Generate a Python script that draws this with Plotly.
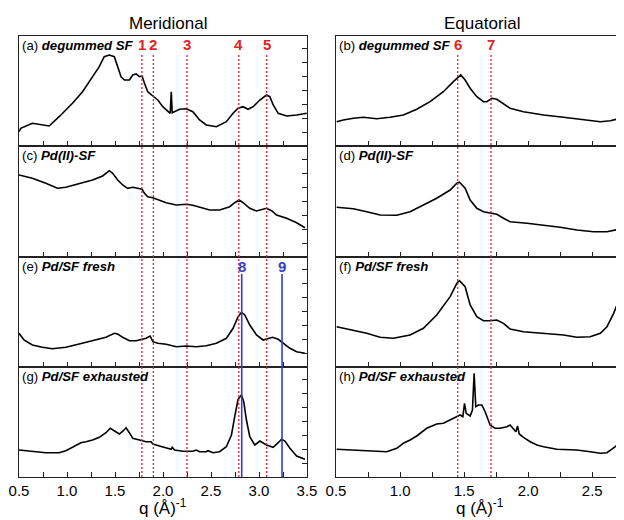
import plotly.graph_objects as go

# ---------------- data (q in 1/Angstrom, intensity in arbitrary units) ----------------
# (a) meridional, degummed SF
q_a = [0.50, 0.518, 0.639, 0.744, 0.814, 0.918, 1.057, 1.162, 1.266, 1.336, 1.388, 1.441, 1.493, 1.528,
       1.563, 1.598, 1.650, 1.685, 1.720, 1.754, 1.782, 1.807, 1.841, 1.894, 1.946, 1.998, 2.050, 2.075,
       2.086, 2.096, 2.172, 2.242, 2.311, 2.381, 2.451, 2.556, 2.660, 2.730, 2.782, 2.834, 2.886, 2.939,
       3.009, 3.078, 3.113, 3.148, 3.200, 3.288, 3.392, 3.497]
i_a = [14.3, 17.7, 22.7, 21.0, 20.0, 29.3, 42.7, 54.3, 69.3, 79.3, 89.3, 91.0, 89.3, 79.3,
       69.3, 66.0, 66.0, 71.0, 72.0, 69.3, 70.0, 62.7, 54.3, 50.0, 46.0, 39.3, 34.3, 32.7,
       54.3, 33.3, 36.7, 37.3, 34.3, 26.0, 21.0, 19.3, 24.3, 32.7, 37.7, 39.3, 36.7, 39.3,
       46.0, 51.0, 49.3, 41.0, 32.7, 30.0, 31.0, 32.7]

# (c) meridional, Pd(II)-SF
q_c = [0.50, 0.639, 0.779, 0.901, 0.988, 1.127, 1.266, 1.371, 1.441, 1.476, 1.528, 1.580, 1.632, 1.685,
       1.737, 1.782, 1.807, 1.841, 1.894, 1.963, 2.033, 2.138, 2.242, 2.311, 2.381, 2.486, 2.590, 2.695,
       2.747, 2.793, 2.834, 2.904, 2.974, 3.026, 3.078, 3.131, 3.183, 3.288, 3.392, 3.479]
i_c = [82.0, 78.7, 73.7, 68.7, 69.7, 73.0, 77.0, 81.0, 86.3, 83.7, 77.0, 72.0, 68.7, 69.7,
       68.7, 67.7, 63.7, 60.3, 59.3, 57.0, 54.3, 52.0, 52.7, 51.7, 49.7, 47.0, 47.0, 50.3,
       54.3, 57.0, 54.3, 48.7, 46.0, 47.0, 48.7, 46.3, 42.0, 38.7, 34.3, 29.3]

# (e) meridional, Pd/SF fresh
q_e = [0.50, 0.552, 0.639, 0.744, 0.848, 0.988, 1.127, 1.266, 1.406, 1.493, 1.528, 1.580, 1.650, 1.720,
       1.782, 1.824, 1.866, 1.894, 1.946, 2.033, 2.138, 2.242, 2.347, 2.451, 2.556, 2.660, 2.730, 2.782,
       2.817, 2.852, 2.904, 2.974, 3.043, 3.096, 3.141, 3.200, 3.252, 3.322, 3.392, 3.479]
i_e = [33.7, 27.0, 22.0, 19.7, 18.3, 19.7, 23.0, 26.3, 29.7, 33.7, 33.0, 29.7, 26.3, 26.3,
       27.7, 28.7, 31.0, 25.3, 23.7, 22.7, 20.3, 21.0, 20.3, 21.3, 23.7, 28.7, 38.7, 50.3,
       54.7, 52.0, 42.0, 32.0, 27.0, 28.7, 29.7, 27.7, 23.7, 18.7, 15.3, 13.7]

# (g) meridional, Pd/SF exhausted
q_g = [0.50, 0.639, 0.779, 0.918, 0.988, 1.057, 1.144, 1.197, 1.266, 1.336, 1.406, 1.451, 1.493, 1.545,
       1.587, 1.615, 1.650, 1.685, 1.754, 1.824, 1.876, 1.894, 1.963, 2.033, 2.086, 2.096, 2.120, 2.207,
       2.311, 2.347, 2.381, 2.451, 2.469, 2.521, 2.590, 2.660, 2.713, 2.747, 2.782, 2.817, 2.841, 2.869,
       2.904, 2.956, 3.009, 3.078, 3.148, 3.200, 3.235, 3.270, 3.322, 3.392, 3.479]
i_g = [27.0, 26.0, 24.3, 24.3, 26.3, 29.7, 34.3, 35.3, 37.0, 39.7, 44.3, 48.7, 46.0, 43.0,
       46.3, 49.3, 44.3, 38.7, 37.0, 35.3, 35.3, 33.0, 31.0, 29.0, 27.7, 29.7, 27.0, 25.7,
       25.7, 27.0, 25.3, 25.3, 26.3, 24.3, 25.3, 30.3, 42.0, 60.3, 77.7, 82.0, 75.3, 57.0,
       40.3, 32.0, 36.0, 32.0, 29.7, 34.3, 37.7, 36.0, 28.7, 21.0, 17.7]

# (b) equatorial, degummed SF
q_b = [0.505, 0.557, 0.635, 0.713, 0.818, 0.922, 1.026, 1.130, 1.234, 1.338, 1.416, 1.455, 1.474, 1.508,
       1.547, 1.599, 1.651, 1.677, 1.716, 1.755, 1.807, 1.859, 1.963, 2.120, 2.276, 2.432, 2.563, 2.641,
       2.719, 2.745]
i_b = [24.3, 26.0, 27.7, 28.7, 27.3, 28.7, 31.0, 36.7, 44.3, 54.3, 64.3, 68.7, 71.0, 66.0,
       57.7, 49.3, 44.3, 44.3, 47.7, 46.7, 42.0, 37.7, 34.3, 31.0, 28.7, 26.0, 24.3, 25.3,
       27.7, 29.3]

# (d) equatorial, Pd(II)-SF
q_d = [0.505, 0.635, 0.740, 0.844, 0.974, 1.078, 1.182, 1.286, 1.391, 1.443, 1.463, 1.508, 1.547, 1.599,
       1.651, 1.703, 1.755, 1.807, 1.859, 1.990, 2.120, 2.250, 2.380, 2.510, 2.615, 2.693, 2.745]
i_d = [49.7, 48.3, 45.3, 42.0, 41.7, 45.3, 52.0, 58.7, 67.0, 73.7, 74.7, 68.7, 57.0, 48.7,
       45.3, 43.7, 42.7, 38.7, 35.3, 33.7, 32.0, 29.7, 27.0, 25.3, 25.3, 27.0, 28.7]

# (f) equatorial, Pd/SF fresh
q_f = [0.505, 0.635, 0.740, 0.844, 0.948, 1.078, 1.182, 1.286, 1.391, 1.443, 1.463, 1.508, 1.547, 1.599,
       1.651, 1.703, 1.755, 1.807, 1.859, 1.963, 2.120, 2.276, 2.380, 2.484, 2.563, 2.615, 2.667, 2.706,
       2.745]
i_f = [40.3, 37.0, 33.7, 29.7, 28.7, 32.0, 38.7, 52.0, 70.3, 83.7, 86.3, 80.3, 62.0, 50.3,
       46.3, 46.3, 47.0, 43.7, 38.0, 35.3, 33.7, 32.0, 29.7, 30.3, 33.7, 40.3, 53.7, 67.0,
       78.7]

# (h) equatorial, Pd/SF exhausted
q_h = [0.505, 0.635, 0.765, 0.896, 0.974, 1.026, 1.078, 1.130, 1.208, 1.286, 1.338, 1.391, 1.443, 1.469,
       1.490, 1.503, 1.516, 1.547, 1.565, 1.578, 1.591, 1.612, 1.638, 1.664, 1.703, 1.742, 1.781, 1.833,
       1.859, 1.885, 1.904, 1.917, 1.930, 1.963, 2.016, 2.068, 2.120, 2.224, 2.380, 2.484, 2.563, 2.615,
       2.680, 2.745]
i_h = [27.7, 27.0, 26.3, 25.3, 28.7, 33.7, 37.0, 41.0, 48.7, 53.0, 53.7, 57.0, 61.0, 62.0,
       60.3, 73.7, 63.7, 61.0, 67.0, 103.7, 70.3, 72.0, 72.0, 65.3, 52.0, 48.7, 48.7, 50.3,
       52.0, 48.7, 45.3, 51.0, 43.0, 39.7, 35.3, 32.0, 30.3, 27.7, 27.0, 25.3, 23.7, 24.3,
       30.3, 38.7]

panel_labels = ["(a) ", "(b) ", "(c) ", "(d) ", "(e) ", "(f) ", "(g) ", "(h) "]
sample_names = ["degummed SF", "degummed SF", "Pd(II)-SF", "Pd(II)-SF",
                "Pd/SF fresh", "Pd/SF fresh", "Pd/SF exhausted", "Pd/SF exhausted"]

red_q_left = [1.78, 1.90, 2.25, 2.79, 3.08]
red_lab_left = ["1", "2", "3", "4", "5"]
red_q_right = [1.45, 1.71]
red_lab_right = ["6", "7"]
blue_q = [2.82, 3.24]
blue_lab = ["8", "9"]

col_titles = ["Meridional", "Equatorial"]
x_ticks_left = [0.5, 1.0, 1.5, 2.0, 2.5, 3.0, 3.5]
x_ticks_right = [0.5, 1.0, 1.5, 2.0, 2.5]

# ---------------- layout geometry (window pixels; page body margin is 8px) ----------------
W, H = 624, 520
OFF = 8
FONT = "Liberation Sans, Arial, sans-serif"
left_px = (19, 307)
right_px = (336, 623)
row_px = [36, 146, 257, 367, 477]

def px_x(p):
    return (p - OFF) / W

def px_y(p):
    return 1 - (p - OFF) / H

series = [(q_a, i_a), (q_b, i_b), (q_c, i_c), (q_d, i_d),
          (q_e, i_e), (q_f, i_f), (q_g, i_g), (q_h, i_h)]

fig = go.Figure()
layout = dict(width=W, height=H, margin=dict(l=0, r=0, t=0, b=0, pad=0, autoexpand=False),
              paper_bgcolor="white", plot_bgcolor="rgba(0,0,0,0)",
              showlegend=False, font=dict(family=FONT, color="black"))

for k, (qq, ii) in enumerate(series):
    n = k + 1
    sfx = "" if n == 1 else str(n)
    row = k // 2
    is_left = (k % 2 == 0)
    xd = left_px if is_left else right_px
    top, bot = row_px[row], row_px[row + 1]
    fig.add_trace(go.Scatter(x=qq, y=ii, mode="lines",
                             line=dict(color="black", width=1.6),
                             xaxis="x" + sfx, yaxis="y" + sfx, hoverinfo="skip"))
    bottom_row = (row == 3)
    ticks_here = x_ticks_left if is_left else x_ticks_right
    layout["xaxis" + sfx] = dict(
        domain=[px_x(xd[0]), px_x(xd[1])],
        range=[0.5, 3.5] if is_left else [0.5, 2.74],
        anchor="y" + sfx, showgrid=False, zeroline=False, automargin=False,
        showline=True, mirror=True, linecolor="#222", linewidth=1,
        ticks="inside", ticklen=5, tickcolor="#222",
        tickvals=ticks_here, ticktext=[f"{v:.1f}" for v in ticks_here],
        minor=dict(ticks="inside", ticklen=5, dtick=0.25, tick0=0.5, tickcolor="#222"),
        showticklabels=bottom_row, tickfont=dict(size=15, family=FONT),
    )
    layout["yaxis" + sfx] = dict(
        domain=[px_y(bot), px_y(top)], range=[0, bot - top],
        anchor="x" + sfx, side="right", showgrid=False, zeroline=False, automargin=False,
        showline=True, mirror=True, linecolor="#222", linewidth=1,
        ticks="inside", ticklen=5, tickcolor="#222", tick0=13.7, dtick=14,
        showticklabels=False,
    )

fig.update_layout(**layout)

annotations = []
shapes = []
# panel labels
for k in range(8):
    row = k // 2
    is_left = (k % 2 == 0)
    xp = (left_px[0] + 1) if is_left else (right_px[0] + 1)
    yp = row_px[row] + 9.5
    annotations.append(dict(
        x=px_x(xp), y=px_y(yp), xref="paper", yref="paper", xanchor="left", yanchor="middle",
        text=panel_labels[k] + "<b><i>" + sample_names[k] + "</i></b>",
        showarrow=False, font=dict(size=13.2, family=FONT, color="black")))

# column titles
for xc, t in zip([168, 482], col_titles):
    annotations.append(dict(x=px_x(xc), y=px_y(23), xref="paper", yref="paper", text=t,
                            xanchor="center", yanchor="middle",
                            showarrow=False, font=dict(size=17, family=FONT)))
# x axis titles
for xc in [(left_px[0] + left_px[1]) / 2, (right_px[0] + right_px[1]) / 2]:
    annotations.append(dict(x=px_x(xc), y=px_y(507), xref="paper", yref="paper",
                            xanchor="center", yanchor="middle",
                            text="q (Å)<sup>-1</sup>", showarrow=False,
                            font=dict(size=17, family=FONT)))

RED = "#e02424"
BLUE = "#3340c8"
for q, lab in zip(red_q_left, red_lab_left):
    shapes.append(dict(type="line", xref="x", yref="paper", x0=q, x1=q,
                       y0=px_y(row_px[4]), y1=px_y(53),
                       line=dict(color=RED, width=1.3, dash="2px,2px")))
    annotations.append(dict(x=q, y=px_y(45), xref="x", yref="paper", text="<b>" + lab + "</b>",
                            xanchor="center", yanchor="middle",
                            showarrow=False, font=dict(size=15, color=RED, family=FONT)))
for q, lab in zip(red_q_right, red_lab_right):
    shapes.append(dict(type="line", xref="x2", yref="paper", x0=q, x1=q,
                       y0=px_y(row_px[4]), y1=px_y(53),
                       line=dict(color=RED, width=1.3, dash="2px,2px")))
    annotations.append(dict(x=q, y=px_y(45), xref="x2", yref="paper", text="<b>" + lab + "</b>",
                            xanchor="center", yanchor="middle",
                            showarrow=False, font=dict(size=15, color=RED, family=FONT)))
for q, lab in zip(blue_q, blue_lab):
    shapes.append(dict(type="line", xref="x", yref="paper", x0=q, x1=q,
                       y0=px_y(row_px[4]), y1=px_y(274),
                       line=dict(color=BLUE, width=1.6)))
    annotations.append(dict(x=q, y=px_y(266), xref="x", yref="paper", text="<b>" + lab + "</b>",
                            xanchor="center", yanchor="middle",
                            showarrow=False, font=dict(size=15, color=BLUE, family=FONT)))

fig.update_layout(annotations=annotations, shapes=shapes)
fig.write_html("out.html")
